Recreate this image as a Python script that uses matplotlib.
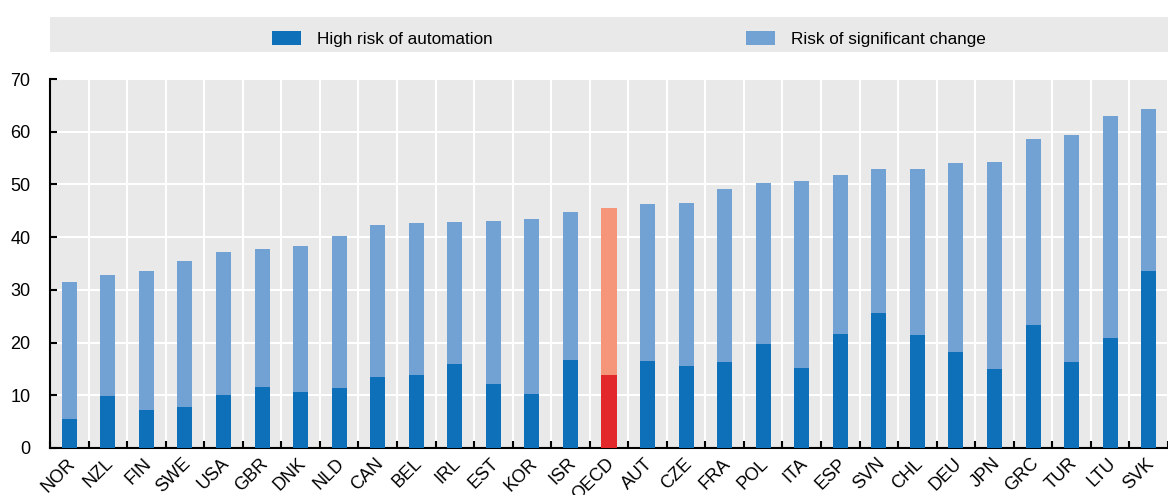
import matplotlib
matplotlib.use("Agg")
import matplotlib.pyplot as plt
import numpy as np
from matplotlib.patches import Rectangle, Patch

plt.rcParams['font.family'] = ['Liberation Sans', 'DejaVu Sans']

countries = ["NOR", "NZL", "FIN", "SWE", "USA", "GBR", "DNK", "NLD", "CAN", "BEL",
             "IRL", "EST", "KOR", "ISR", "OECD", "AUT", "CZE", "FRA", "POL", "ITA",
             "ESP", "SVN", "CHL", "DEU", "JPN", "GRC", "TUR", "LTU", "SVK"]
high_risk = [5.5, 9.9, 7.2, 7.8, 10.1, 11.6, 10.6, 11.3, 13.5, 13.9,
             15.9, 12.2, 10.3, 16.7, 13.9, 16.5, 15.5, 16.4, 19.8, 15.2,
             21.6, 25.7, 21.5, 18.2, 15.0, 23.3, 16.4, 20.9, 33.6]
total_risk = [31.5, 32.8, 33.6, 35.5, 37.2, 37.8, 38.3, 40.2, 42.3, 42.7,
              42.9, 43.1, 43.4, 44.7, 45.6, 46.2, 46.5, 49.1, 50.3, 50.7,
              51.8, 52.9, 52.9, 54.1, 54.3, 58.6, 59.4, 63.0, 64.3]
sig_change = [t - h for t, h in zip(total_risk, high_risk)]

c_high = "#0e70b8"
c_change = "#72a2d3"
c_high_oecd = "#e3282c"
c_change_oecd = "#f5967a"
bg = "#e9e9e9"

fig = plt.figure(figsize=(11.68, 4.95), dpi=100)
ax = fig.add_axes([50/1168, 1-448/495, 1-50/1168, (448-79)/495])
ax.set_facecolor(bg)

x = np.arange(len(countries))
hc = [c_high_oecd if c == "OECD" else c_high for c in countries]
cc = [c_change_oecd if c == "OECD" else c_change for c in countries]
w = 0.39
ax.bar(x, high_risk, width=w, color=hc, zorder=3)
ax.bar(x, sig_change, bottom=high_risk, width=w, color=cc, zorder=3)

ax.set_ylim(0, 70)
ax.set_xlim(-0.5, len(countries) - 1 + 0.17)
ax.set_yticks(np.arange(0, 71, 10))
ax.set_xticks(x)
ax.set_xticklabels(countries, rotation=45, ha='right', rotation_mode='anchor', fontsize=13)
ax.set_xticks(np.arange(-0.5, len(countries), 1), minor=True)
ax.tick_params(axis='x', which='major', length=0, pad=5)
ax.tick_params(axis='x', which='minor', direction='in', length=5, width=1.5, color='black')
ax.tick_params(axis='y', direction='in', length=5, width=1.5, labelsize=13, pad=14)
for lbl in ax.get_xticklabels():
    lbl.set_transform(lbl.get_transform() + matplotlib.transforms.ScaledTranslation(-0.03, 0, fig.dpi_scale_trans))

ax.grid(axis='y', color='white', linewidth=1.5, zorder=1)
ax.grid(axis='x', which='minor', color='white', linewidth=1.5, zorder=1)
ax.set_axisbelow(True)
for s in ['top', 'right']:
    ax.spines[s].set_visible(False)
ax.spines['left'].set_linewidth(1.5)
ax.spines['bottom'].set_linewidth(1.5)

# legend band
fig.patches.append(Rectangle((50/1168, 1-52/495), 1-50/1168, 35/495,
                             transform=fig.transFigure, facecolor=bg, edgecolor='none', zorder=0))
handles = [Patch(facecolor=c_high, label="High risk of automation"),
           Patch(facecolor=c_change, label="Risk of significant change")]
fig.legend(handles=handles, loc='center', bbox_to_anchor=(629/1168, 1-39/495), ncol=2,
           frameon=False, fontsize=12.3, handlelength=1.7, handleheight=0.85,
           handletextpad=0.95, columnspacing=14.8)

fig.savefig("out.png", dpi=100)
